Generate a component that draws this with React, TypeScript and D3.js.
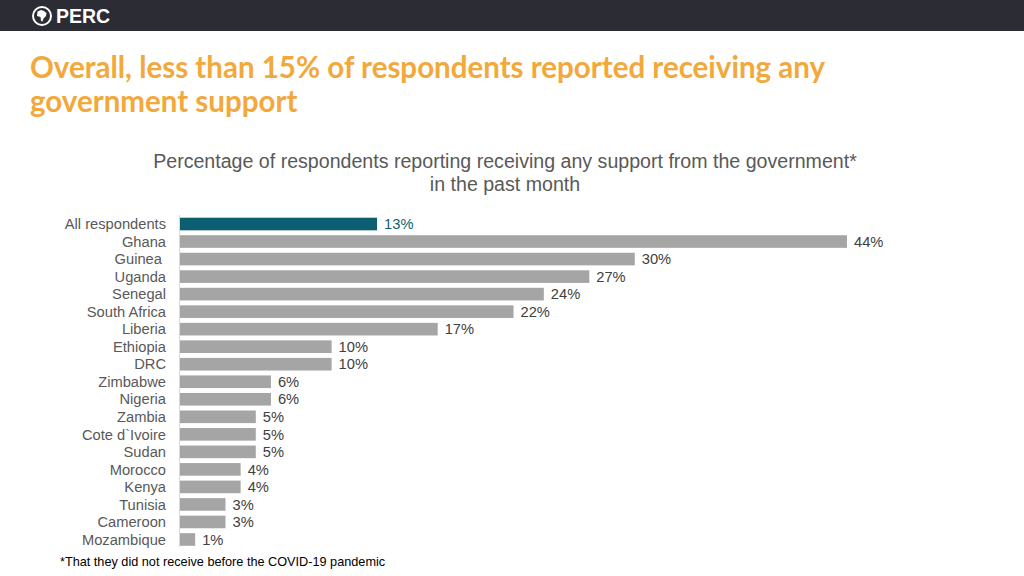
import React from "react";
import * as d3 from "d3";

const categories = ["All respondents","Ghana","Guinea ","Uganda","Senegal","South Africa","Liberia","Ethiopia","DRC","Zimbabwe","Nigeria","Zambia","Cote d`Ivoire","Sudan","Morocco","Kenya","Tunisia","Cameroon","Mozambique"];
const values = [13,44,30,27,24,22,17,10,10,6,6,5,5,5,4,4,3,3,1];
const titleLines = ["Overall, less than 15% of respondents reported receiving any","government support"];
const subtitleLines = ["Percentage of respondents reporting receiving any support from the government*","in the past month"];
const footnote = "*That they did not receive before the COVID-19 pandemic";

export default function App() {
  const W = 1024, H = 576;
  const x = d3.scaleLinear().domain([0, 44]).range([180, 847]);
  const y = d3.scaleBand<string>().domain(categories.map((c, i) => i + "")).range([215.25, 548.25]).paddingInner(0.28).paddingOuter(0.14);
  const sans = "Liberation Sans, Arial, sans-serif";
  return (
    <svg width={W} height={H} style={{ position: "absolute", left: 0, top: 0 }}>
      <rect x={0} y={0} width={W} height={H} fill="#ffffff" />
      <rect x={0} y={0} width={W} height={31} fill="#2c2c34" />
      <g transform="translate(42,16)">
        <circle r={9} fill="none" stroke="#fff" strokeWidth={2} />
        <path d="M-4.5,-4.5 L-1,-6 L2,-5 L4.5,-3 L4,0 L1.5,2.5 L0.5,5.5 L-1,5 L-1.5,1 L-5,0 Z" fill="#fff" />
      </g>
      <text x={56} y={23} fill="#fff" fontFamily={sans} fontWeight="bold" fontSize={19.5}>PERC</text>
      {titleLines.map((t, i) => (
        <text key={i} x={30} y={78 + i * 34} fill="#F2A83A" fontFamily="Lato, 'Open Sans', sans-serif" fontWeight="bold" fontSize={29.5}>{t}</text>
      ))}
      {subtitleLines.map((t, i) => (
        <text key={i} x={505} y={168 + i * 23} textAnchor="middle" fill="#595959" fontFamily={sans} fontSize={19.6}>{t}</text>
      ))}
      <line x1={179.5} x2={179.5} y1={215} y2={547} stroke="#d9d9d9" strokeWidth={1} />
      {categories.map((c, i) => {
        const yy = y(i + "")!;
        const bh = y.bandwidth();
        const first = i === 0;
        return (
          <g key={i}>
            <text x={166} y={yy + bh / 2 + 5.2} textAnchor="end" fill="#595959" fontFamily={sans} fontSize={14.7} style={{ whiteSpace: "pre" }}>{c}</text>
            <rect x={x(0)} y={yy} width={x(values[i]) - x(0)} height={bh} fill={first ? "#0b5f70" : "#a5a5a5"} />
            <text x={x(values[i]) + 7} y={yy + bh / 2 + 5.2} fill={first ? "#0b5f70" : "#404040"} fontFamily={sans} fontSize={14.7}>{values[i] + "%"}</text>
          </g>
        );
      })}
      <text x={60} y={566} fill="#000" fontFamily={sans} fontSize={12.7}>{footnote}</text>
    </svg>
  );
}
